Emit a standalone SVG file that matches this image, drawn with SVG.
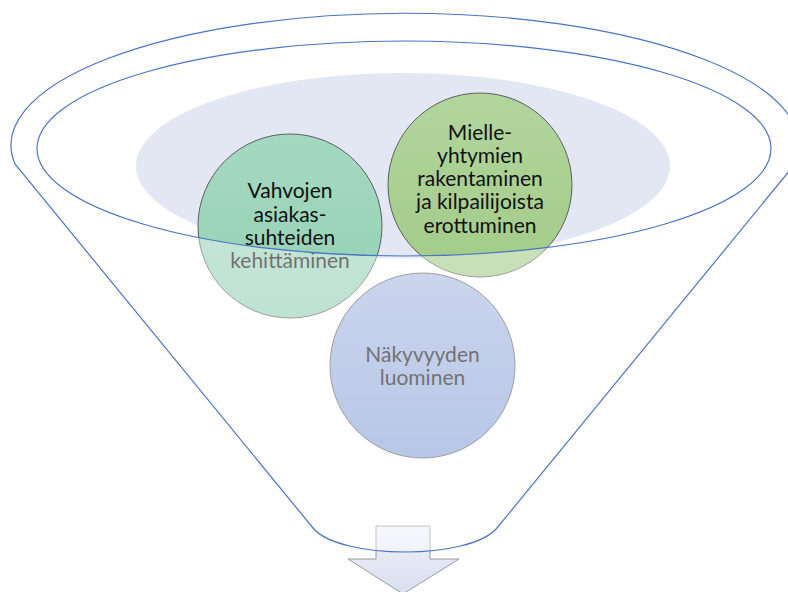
<svg xmlns="http://www.w3.org/2000/svg" width="788" height="592" viewBox="0 0 788 592">
<defs>
<linearGradient id="gTeal" x1="0" y1="0" x2="0" y2="1"><stop offset="0" stop-color="#A4D9C1"/><stop offset="1" stop-color="#94D0B4"/></linearGradient>
<linearGradient id="gGreen" x1="0" y1="0" x2="0" y2="1"><stop offset="0" stop-color="#B2D59E"/><stop offset="1" stop-color="#A2CB87"/></linearGradient>
<linearGradient id="gBlue" x1="0" y1="0" x2="0" y2="1"><stop offset="0" stop-color="#A8B8E1"/><stop offset="1" stop-color="#88A2D8"/></linearGradient>
<linearGradient id="gArrow" x1="0" y1="0" x2="0" y2="1"><stop offset="0" stop-color="#F1F3FA"/><stop offset="1" stop-color="#D8DEEF"/></linearGradient>
</defs>
<style>
.circ{stroke:#5E5E5E;stroke-width:1}
.lbl{font-family:Lato,"Liberation Sans",sans-serif;font-size:21px;fill:#111;text-anchor:middle}
.fline{fill:none;stroke:#4A74C6;stroke-width:1.2}
</style>
<rect width="788" height="592" fill="#fff"/>
<g id="mouth">
<ellipse cx="403" cy="166" rx="267" ry="93" fill="#E3E7F3"/>
</g>
<g id="arrow">
<polygon points="376,526 430,526 430,559 459,559 403,594 348,559 376,559" fill="url(#gArrow)" stroke="#9A9A9A" stroke-width="1"/>
</g>
<g id="node-vahvojen">
<circle class="circ" cx="290" cy="226" r="92" fill="url(#gTeal)"/>
<text class="lbl"><tspan x="290" y="198">Vahvojen</tspan><tspan x="290" y="222">asiakas-</tspan><tspan x="290" y="245">suhteiden</tspan><tspan x="290" y="268">kehittäminen</tspan></text>
</g>
<g id="node-mielle">
<circle class="circ" cx="480" cy="185" r="92" fill="url(#gGreen)"/>
<text class="lbl"><tspan x="480" y="140">Mielle-</tspan><tspan x="480" y="163">yhtymien</tspan><tspan x="480" y="186">rakentaminen</tspan><tspan x="480" y="209">ja kilpailijoista</tspan><tspan x="480" y="233">erottuminen</tspan></text>
</g>
<g id="node-nakyvyys">
<circle class="circ" cx="422.5" cy="365.5" r="92.5" fill="url(#gBlue)"/>
<text class="lbl"><tspan x="422.5" y="362">Näkyvyyden</tspan><tspan x="422.5" y="385">luominen</tspan></text>
</g>
<g id="funnel">
<path d="M15,164 A394,132 0 1 1 795,164 L497,528 C470,560 340,560 313,528 Z M37,148.5 A367,107.5 0 1 0 771,148.5 A367,107.5 0 1 0 37,148.5 Z" fill="#fff" fill-opacity="0.4" fill-rule="evenodd"/>
<path class="fline" d="M15,164 A394,132 0 1 1 795,164 L497,528 C470,560 340,560 313,528 Z"/>
<ellipse class="fline" cx="404" cy="148.5" rx="367" ry="107.5"/>
</g>
</svg>
